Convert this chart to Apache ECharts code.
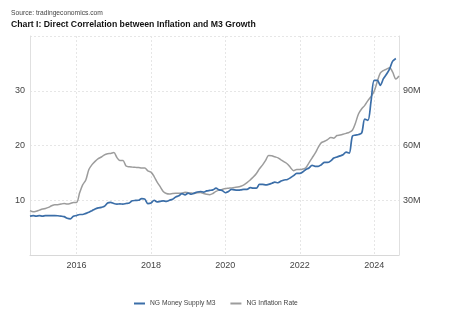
<!DOCTYPE html>
<html><head><meta charset="utf-8">
<script src="https://cdn.jsdelivr.net/npm/echarts@6/dist/echarts.min.js"></script>
<style>html,body{margin:0;padding:0;background:#fff}#c{width:463px;height:322px}</style>
</head><body><div id="c"></div>
<script>
// Monthly series: inflation Oct 2014 – Sep 2024; M3 Oct 2014 – Aug 2024
const startYear = 2014, startMonth = 10;
const inflation = [
 8.1,7.9,8.0,
 8.2,8.4,8.5,8.7,9.0,9.2,9.2,9.3,9.4,9.3,9.4,9.6,
 9.6,11.4,12.8,13.7,15.6,16.5,17.1,17.6,17.9,18.3,18.5,18.55,
 18.72,17.78,17.26,17.24,16.25,16.1,16.05,16.01,15.98,15.91,15.9,15.37,
 15.13,14.33,13.34,12.48,11.61,11.23,11.14,11.23,11.28,11.26,11.28,11.44,
 11.37,11.31,11.25,11.37,11.40,11.22,11.08,11.02,11.24,11.61,11.85,11.98,
 12.13,12.20,12.26,12.34,12.40,12.56,12.82,13.22,13.71,14.23,14.89,15.75,
 16.47,17.33,18.17,18.12,17.93,17.75,17.38,17.01,16.63,15.99,15.40,15.63,
 15.60,15.70,15.92,16.82,17.71,18.60,19.64,20.52,20.77,21.09,21.47,21.34,
 21.82,21.91,22.04,22.22,22.41,22.79,24.08,25.80,26.72,27.33,28.20,28.92,
 29.90,31.70,33.20,33.69,33.95,34.19,33.40,32.15,32.70
];
// NG Money Supply M3, in millions (axis shows "M")
const moneySupply = [
 21.3,21.6,21.3,
 21.6,21.3,21.6,21.6,21.6,21.6,21.5,21.3,21.0,20.1,19.8,21.3,
 21.6,22.2,22.2,22.8,23.4,24.3,25.2,25.8,26.1,26.7,28.5,28.8,
 28.2,27.9,28.0,27.9,28.2,28.5,29.7,29.9,30.0,30.9,30.6,28.2,
 28.5,30.0,29.1,29.4,29.7,29.4,30.0,30.6,31.8,32.4,33.6,33.0,
 33.9,33.3,33.9,34.5,34.8,34.5,35.1,35.4,35.7,36.6,35.7,35.4,
 34.1,34.8,36.0,35.7,35.6,35.7,36.0,36.0,36.9,36.6,36.6,38.7,
 38.7,38.4,38.7,39.3,39.9,39.6,40.5,41.1,41.4,42.3,43.5,44.7,
 44.7,45.6,46.8,47.7,49.1,48.6,48.6,49.5,50.7,50.7,51.6,53.1,
 53.7,54.3,54.9,56.4,55.8,65.1,65.7,66.0,66.9,74.4,73.8,84.0,
 95.7,95.7,93.0,96.6,99.0,102.0,106.2,107.7
];
const yearTicks = [2016, 2018, 2020, 2022, 2024];
const leftTicks = [10, 20, 30];
const rightTicks = [30, 60, 90];
const seriesNames = ['NG Money Supply M3', 'NG Inflation Rate'];

function monthTime(i) {
  const m0 = startMonth - 1 + i;
  return Date.UTC(startYear + Math.floor(m0 / 12), m0 % 12, 1);
}
const infData = inflation.map((v, i) => [monthTime(i), v]);
const m3Data = moneySupply.map((v, i) => [monthTime(i), v]);
const tickTimes = yearTicks.map(y => Date.UTC(y, 0, 1));

const chart = echarts.init(document.getElementById('c'), null, {renderer: 'canvas'});
const gridColor = '#e6e6e6';
const font = 'Liberation Sans, Arial, sans-serif';
chart.setOption({
  animation: false,
  textStyle: {fontFamily: font},
  title: [
    {text: 'Source: tradingeconomics.com', left: 11, top: 10, padding: 0,
     textStyle: {fontSize: 6.7, fontWeight: 'normal', color: '#444', fontFamily: font}},
    {text: 'Chart I: Direct Correlation between Inflation and M3 Growth', left: 11, top: 20, padding: 0,
     textStyle: {fontSize: 8.7, fontWeight: 'bold', color: '#111', fontFamily: font}}
  ],
  grid: {left: 30, right: 64, top: 36, bottom: 67, containLabel: false},
  legend: {
    bottom: 15, left: 134, padding: 0, itemGap: 15, itemWidth: 11, itemHeight: 2, icon: 'rect',
    data: seriesNames,
    textStyle: {fontSize: 6.7, color: '#444', fontFamily: font}
  },
  xAxis: {
    type: 'value',
    min: monthTime(0), max: Date.UTC(2024, 8, 1),
    axisLine: {show: true, lineStyle: {color: '#d8d8d8'}},
    axisTick: {show: false, customValues: tickTimes},
    axisLabel: {customValues: tickTimes, formatter: v => String(new Date(v).getUTCFullYear()),
                fontSize: 9, color: '#444', margin: 6, fontFamily: font},
    splitLine: {show: true, lineStyle: {color: gridColor, type: [2, 2]}}
  },
  yAxis: [
    {type: 'value', min: 0, max: 40, interval: 10, position: 'left',
     axisLine: {show: true, lineStyle: {color: '#e0e0e0'}},
     axisTick: {show: false},
     axisLabel: {formatter: v => leftTicks.includes(v) ? String(v) : '', fontSize: 9, color: '#444', margin: 5, fontFamily: font},
     splitLine: {show: true, lineStyle: {color: gridColor, type: [2, 2]}}},
    {type: 'value', min: 0, max: 120, interval: 30, position: 'right',
     axisLine: {show: true, lineStyle: {color: '#e0e0e0'}},
     axisTick: {show: false},
     axisLabel: {formatter: v => rightTicks.includes(v) ? v + 'M' : '', fontSize: 9, color: '#444', margin: 4, fontFamily: font},
     splitLine: {show: false}}
  ],
  series: [
    {name: seriesNames[0], type: 'line', yAxisIndex: 1, data: m3Data, showSymbol: false, smooth: 0.3,
     lineStyle: {color: '#3b6ea8', width: 1.7}, itemStyle: {color: '#3b6ea8'}, z: 3},
    {name: seriesNames[1], type: 'line', yAxisIndex: 0, data: infData, showSymbol: false, smooth: 0.3,
     lineStyle: {color: '#9c9c9c', width: 1.5}, itemStyle: {color: '#9c9c9c'}, z: 2}
  ]
});
</script></body></html>
